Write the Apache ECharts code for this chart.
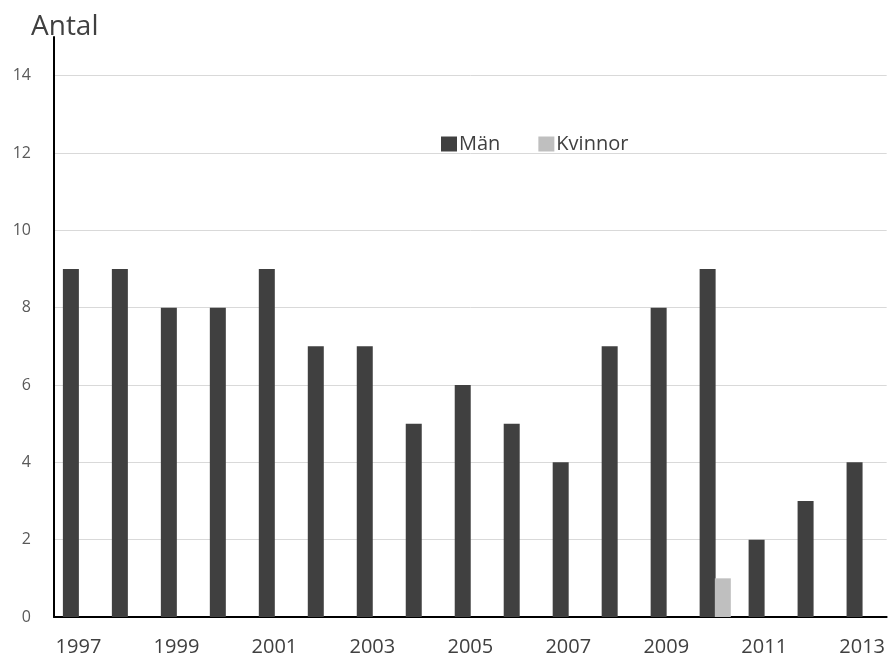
<!DOCTYPE html>
<html>
<head>
<meta charset="utf-8">
<script src="https://cdn.jsdelivr.net/npm/echarts@6/dist/echarts.min.js"></script>
<style>
  html, body { margin: 0; padding: 0; background: #fff; }
  #chart { width: 888px; height: 659px; }
</style>
</head>
<body>
<div id="chart"></div>
<script>
// Antal per år, uppdelat på män och kvinnor
const years = ['1997','1998','1999','2000','2001','2002','2003','2004','2005',
               '2006','2007','2008','2009','2010','2011','2012','2013'];
const man = [9, 9, 8, 8, 9, 7, 7, 5, 6, 5, 4, 7, 8, 9, 2, 3, 4];
const kvinnor = [null, null, null, null, null, null, null, null, null,
                 null, null, null, null, 1, null, null, null];
const yTicks = { min: 0, max: 15, interval: 2 };

const font = '"Open Sans", Lato, sans-serif';
const chart = echarts.init(document.getElementById('chart'));
chart.setOption({
  animation: false,
  backgroundColor: '#ffffff',
  title: {
    text: 'Antal',
    left: 26, top: 8,
    textStyle: { fontFamily: font, fontSize: 28, fontWeight: 'normal', color: '#404040' }
  },
  legend: {
    data: ['Män', 'Kvinnor'],
    left: 436, top: 129,
    itemWidth: 16, itemHeight: 15, itemGap: 38,
    icon: 'rect',
    textStyle: { fontFamily: font, fontSize: 20, color: '#404040', padding: [0, 0, 0, -3] }
  },
  grid: { left: 54, right: 0, top: 37, bottom: 42, containLabel: false },
  xAxis: {
    type: 'category',
    data: years,
    axisLine: { show: true, lineStyle: { color: '#000', width: 2 } },
    axisTick: { show: false },
    axisLabel: { interval: 1, fontFamily: font, fontSize: 20, color: '#404040', margin: 20 }
  },
  yAxis: {
    type: 'value',
    min: yTicks.min, max: yTicks.max, interval: yTicks.interval,
    axisLine: { show: true, lineStyle: { color: '#000', width: 2 } },
    axisTick: { show: false },
    axisLabel: { showMaxLabel: false, fontFamily: font, fontSize: 16, color: '#595959', margin: 23 },
    splitLine: { show: true, showMaxLine: false, lineStyle: { color: '#d9d9d9', width: 1 } }
  },
  series: [
    { name: 'Män', type: 'bar', data: man, barWidth: 16, barGap: '-5%',
      itemStyle: { color: '#404040' } },
    { name: 'Kvinnor', type: 'bar', data: kvinnor, barWidth: 16,
      itemStyle: { color: '#bfbfbf' } }
  ]
});
</script>
</body>
</html>
